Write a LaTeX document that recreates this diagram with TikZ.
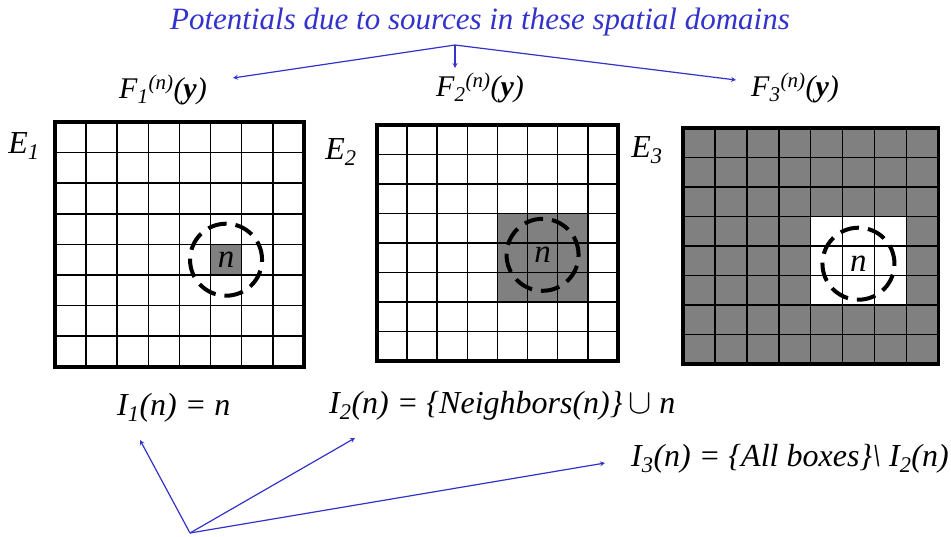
\documentclass[tikz,border=0pt]{standalone}
\usepackage{fontspec}
\setmainfont{Liberation Serif}
\usetikzlibrary{positioning}
\definecolor{linkblue}{RGB}{51,51,204}
\definecolor{cellgray}{RGB}{128,128,128}
\newcommand{\Fpot}[1]{F\textsubscript{#1}\textsuperscript{(n)}(\textbf{y})}
\newcommand{\Edom}[1]{E\textsubscript{#1}}
\tikzset{
  big text/.style={font=\fontsize{30}{33}\selectfont\itshape, inner sep=1pt},
  list text/.style={font=\fontsize{32}{35}\selectfont\itshape, inner sep=1pt, anchor=west},
  title text/.style={font=\fontsize{31}{34}\selectfont\itshape, inner sep=1pt, text=linkblue},
  pointer/.style={->, linkblue, line width=1.2pt},
  gridline/.style={black, line width=1.6pt},
  frame/.style={black, line width=3.4pt},
  ring/.style={circle, draw, line width=4pt, dash pattern=on 19pt off 9pt,
    minimum size=72pt, inner sep=0pt, font=\fontsize{33}{33}\selectfont\itshape}
}
\begin{document}
\begin{tikzpicture}[x=1pt, y=-1pt, >=stealth]
    \useasboundingbox (0,0) rectangle (951,536);

    % Title and its arrows
    \node[title text] (title) at (480,22) {Potentials due to sources in these spatial domains};
    \coordinate (split) at (455,45);
    \node[big text] (fone) at (163,90) {\Fpot{1}};
    \node[big text] (ftwo) at (480,88) {\Fpot{2}};
    \node[big text] (fthree) at (795,88) {\Fpot{3}};
    \coordinate (fonetip) at (233,78);
    \coordinate (ftwotip) at (455,68);
    \coordinate (fthreetip) at (736,80);
    \draw[pointer] (split) -- (fonetip);
    \draw[pointer] (split) -- (ftwotip);
    \draw[pointer] (split) -- (fthreetip);

    % Domain labels
    \node[list text, anchor=center] (eone) at (24,146) {\Edom{1}};
    \node[list text, anchor=center] (etwo) at (341,152) {\Edom{2}};
    \node[list text, anchor=center] (ethree) at (647,150) {\Edom{3}};

    % Grid 1: the box itself
    \begin{scope}[shift={(55,122)}, x=31.1pt, y=-30.6pt]
        \fill[cellgray] (5,4) rectangle (6,5);
        \foreach \i in {1,...,7} {
            \draw[gridline] (\i,0) -- (\i,8);
            \draw[gridline] (0,\i) -- (8,\i);
        }
        \draw[frame] (0,0) rectangle (8,8);
        \node[ring] (srcone) at (5.5,4.5) {n};
    \end{scope}

    % Grid 2: box and its neighbors
    \begin{scope}[shift={(377,125)}, x=30.1pt, y=-29.5pt]
        \fill[cellgray] (4,3) rectangle (7,6);
        \foreach \i in {1,...,7} {
            \draw[gridline] (\i,0) -- (\i,8);
            \draw[gridline] (0,\i) -- (8,\i);
        }
        \draw[frame] (0,0) rectangle (8,8);
        \node[ring] (srctwo) at (5.5,4.4) {n};
    \end{scope}

    % Grid 3: all the other boxes
    \begin{scope}[shift={(683,128)}, x=31.9pt, y=-29.5pt]
        \fill[cellgray] (0,0) rectangle (8,8);
        \fill[white] (4,3) rectangle (7,6);
        \foreach \i in {1,...,7} {
            \draw[gridline] (\i,0) -- (\i,8);
            \draw[gridline] (0,\i) -- (8,\i);
        }
        \draw[frame] (0,0) rectangle (8,8);
        \node[ring] (srcthree) at (5.5,4.6) {n};
    \end{scope}

    % Interaction lists
    \node[list text] (ione) at (116,408) {I\textsubscript{1}(n) = n};
    \node[list text] (itwo) at (328,406) {I\textsubscript{2}(n) = \{Neighbors(n)\}\,\scalebox{1.4}{$\cup$}\ n};
    \node[list text] (ithree) at (630,459) {I\textsubscript{3}(n) = \{All boxes\}\textbackslash\ I\textsubscript{2}(n)};
    \coordinate (root) at (190,533);
    \coordinate (ionetip) at (140,440);
    \coordinate (itwotip) at (355,438);
    \coordinate (ithreetip) at (605,463);
    \draw[pointer] (root) -- (ionetip);
    \draw[pointer] (root) -- (itwotip);
    \draw[pointer] (root) -- (ithreetip);
\end{tikzpicture}
\end{document}
